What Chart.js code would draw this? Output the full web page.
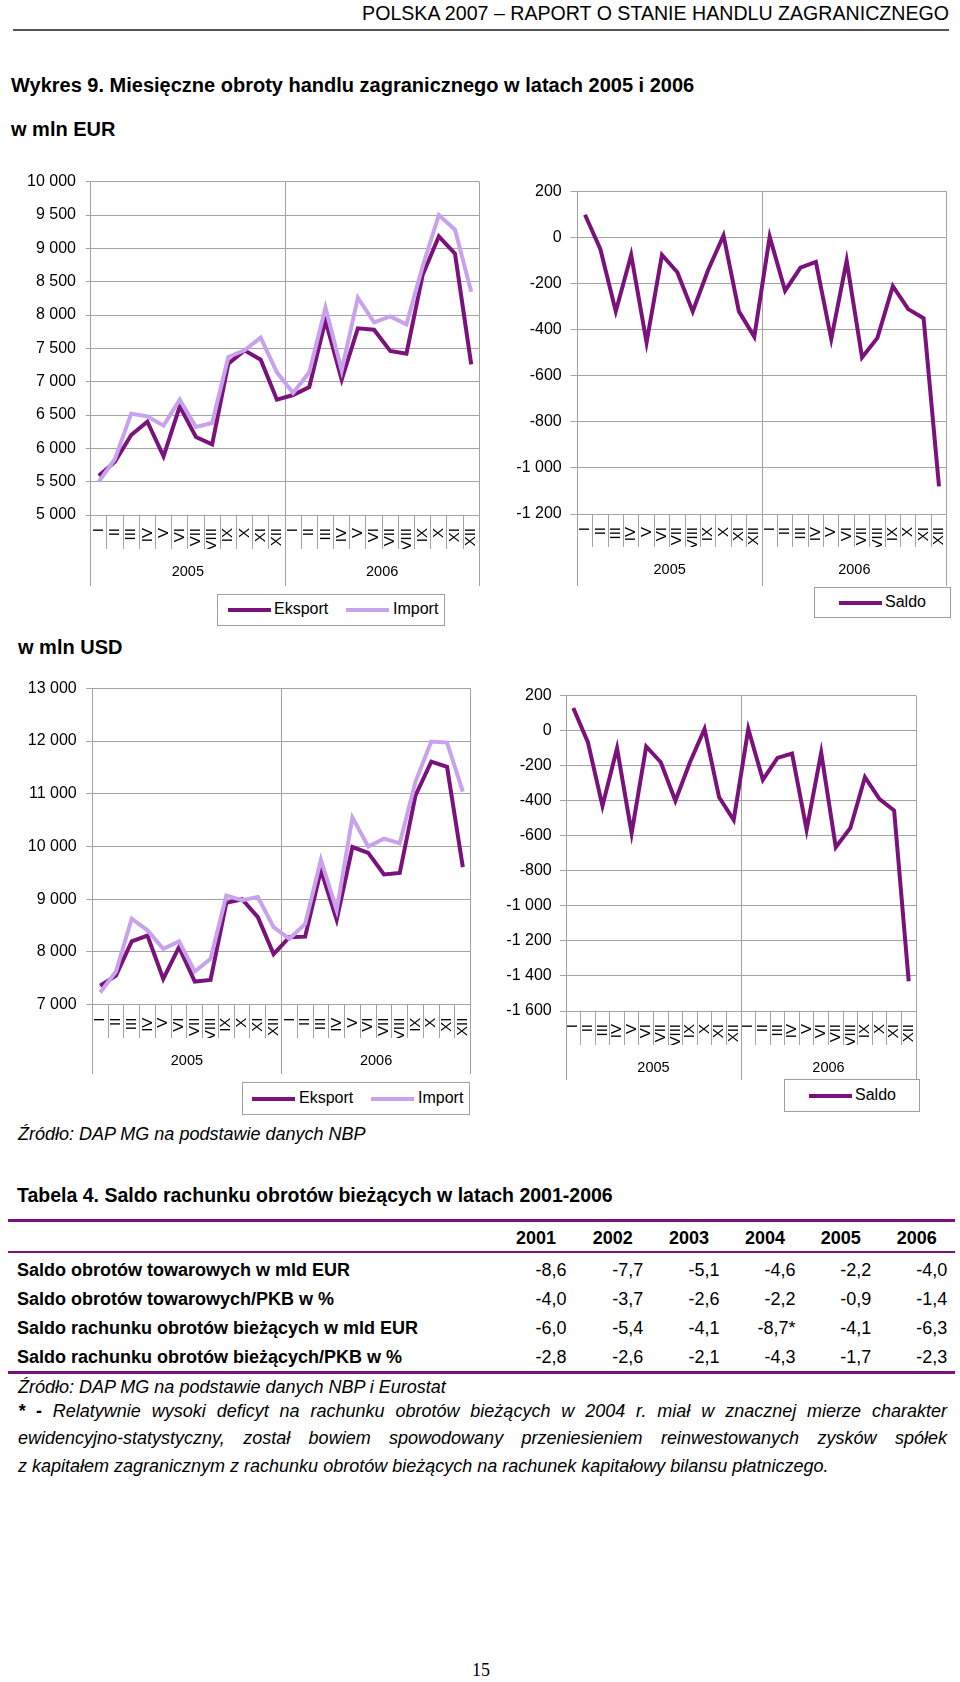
<!DOCTYPE html>
<html lang="pl">
<head>
<meta charset="utf-8">
<title>Wykres 9</title>
<script src="https://cdn.jsdelivr.net/npm/chart.js@4.4.1/dist/chart.umd.min.js"></script>
<style>
  html, body { margin: 0; padding: 0; background: #fff; }
  body { position: relative; width: 960px; height: 1682px; overflow: hidden;
         font-family: "Liberation Sans", Arial, sans-serif; color: #000; }
  .abs { position: absolute; white-space: nowrap; }
  canvas { position: absolute; }
  .legend { position: absolute; border: 1px solid #a0a0a0; background: #fff; box-sizing: border-box; }
  .legend .sw { position: absolute; height: 4px; }
  .legend .lt { position: absolute; font-size: 16px; line-height: 20px; }
</style>
</head>
<body>

<div class="abs" style="right:11px; top:1px; font-size:19.6px; line-height:24px;">POLSKA 2007 – RAPORT O STANIE HANDLU ZAGRANICZNEGO</div>
<div class="abs" style="left:13px; top:29px; width:936px; height:2px; background:#555;"></div>

<div class="abs" style="left:11px; top:73px; font-size:20px; line-height:24px; font-weight:bold;">Wykres 9. Miesięczne obroty handlu zagranicznego w latach 2005 i 2006</div>
<div class="abs" style="left:11px; top:117px; font-size:20px; line-height:24px; font-weight:bold;">w mln EUR</div>
<div class="abs" style="left:18px; top:635px; font-size:20px; line-height:24px; font-weight:bold;">w mln USD</div>

<canvas id="eurChart" width="490" height="426" style="left:0; top:160px;"></canvas>
<canvas id="eurSaldoChart" width="470" height="426" style="left:490px; top:160px;"></canvas>
<canvas id="usdChart" width="490" height="434" style="left:0; top:640px;"></canvas>
<canvas id="usdSaldoChart" width="470" height="440" style="left:490px; top:640px;"></canvas>

<div class="legend" style="left:217px; top:594px; width:228px; height:32px;">
  <div class="sw" style="left:10px; top:13px; width:43px; background:#7b127b;"></div>
  <div class="lt" style="left:56px; top:4px;">Eksport</div>
  <div class="sw" style="left:128px; top:13px; width:43px; background:#c8a2ec;"></div>
  <div class="lt" style="left:175px; top:4px;">Import</div>
</div>
<div class="legend" style="left:814px; top:587px; width:137px; height:31px;">
  <div class="sw" style="left:24px; top:13px; width:43px; background:#7b127b;"></div>
  <div class="lt" style="left:70px; top:4px;">Saldo</div>
</div>
<div class="legend" style="left:242px; top:1082px; width:228px; height:33px;">
  <div class="sw" style="left:9px; top:14px; width:43px; background:#7b127b;"></div>
  <div class="lt" style="left:56px; top:5px;">Eksport</div>
  <div class="sw" style="left:128px; top:14px; width:43px; background:#c8a2ec;"></div>
  <div class="lt" style="left:175px; top:5px;">Import</div>
</div>
<div class="legend" style="left:784px; top:1079px; width:136px; height:33px;">
  <div class="sw" style="left:24px; top:14px; width:43px; background:#7b127b;"></div>
  <div class="lt" style="left:70px; top:5px;">Saldo</div>
</div>

<div class="abs" style="left:18px; top:1123px; font-size:18px; line-height:22px; font-style:italic;">Źródło: DAP MG na podstawie danych NBP</div>

<div class="abs" style="left:17px; top:1183px; font-size:19.5px; line-height:24px; font-weight:bold;">Tabela 4. Saldo rachunku obrotów bieżących w latach 2001-2006</div>
<div class="abs" style="left:8px; top:1219px; width:947px; height:3px; background:#7b127b;"></div>
<div class="abs" style="left:8px; top:1251px; width:947px; height:1.5px; background:#7b127b;"></div>
<div class="abs" style="left:8px; top:1371px; width:947px; height:3px; background:#7b127b;"></div>
<div id="tbl"></div>

<div class="abs" style="left:18px; top:1376px; font-size:18px; line-height:22px; font-style:italic;">Źródło: DAP MG na podstawie danych NBP i Eurostat</div>
<div class="abs" style="left:18px; top:1398px; width:929px; font-size:18px; line-height:27.3px; font-style:italic; white-space:normal; text-align:justify;"><b>* -</b> Relatywnie wysoki deficyt na rachunku obrotów bieżących w 2004 r. miał w znacznej mierze charakter ewidencyjno-statystyczny, został bowiem spowodowany przeniesieniem reinwestowanych zysków spółek z&nbsp;kapitałem zagranicznym z rachunku obrotów bieżących na rachunek kapitałowy bilansu płatniczego.</div>

<div class="abs" style="left:461px; width:40px; text-align:center; top:1659px; font-family:'Liberation Serif','Times New Roman',serif; font-size:18px; line-height:22px;">15</div>

<script>
const monthLabels = ['I', 'II', 'III', 'IV', 'V', 'VI', 'VII', 'VIII', 'IX', 'X', 'XI', 'XII',
                     'I', 'II', 'III', 'IV', 'V', 'VI', 'VII', 'VIII', 'IX', 'X', 'XI', 'XII'];
const yearLabels = ['2005', '2006'];

// w mln EUR
const eksportEUR = [5590, 5800, 6200, 6400, 5880, 6630, 6170, 6060, 7270, 7470, 7330, 6730,
                    6800, 6920, 7920, 7030, 7800, 7780, 7460, 7420, 8600, 9180, 8920, 7260];
const importEUR  = [5500, 5840, 6520, 6480, 6340, 6730, 6320, 6380, 7370, 7470, 7660, 7140,
                    6830, 7140, 8110, 7170, 8260, 7890, 7980, 7860, 8730, 9500, 9280, 8350];
const saldoEUR   = [100, -50, -320, -75, -455, -75, -150, -320, -140, 10, -320, -430,
                    5, -230, -130, -105, -440, -100, -520, -435, -210, -310, -350, -1080];

// w mln USD
const eksportUSD = [7360, 7550, 8200, 8310, 7490, 8090, 7440, 7470, 8930, 9000, 8660, 7960,
                    8280, 8290, 9550, 8610, 9990, 9880, 9470, 9500, 10970, 11610, 11510, 9610];
const importUSD  = [7230, 7630, 8630, 8410, 8060, 8200, 7630, 7870, 9070, 8980, 9040, 8470,
                    8250, 8530, 9750, 8790, 10550, 10000, 10150, 10060, 11230, 11990, 11970, 11040];
const saldoUSD   = [130, -65, -430, -100, -585, -90, -180, -400, -180, 10, -380, -510,
                    10, -280, -155, -130, -565, -125, -665, -555, -265, -390, -455, -1430];

// Tabela 4
const tableYears = ['2001', '2002', '2003', '2004', '2005', '2006'];
const tableRowLabels = ['Saldo obrotów towarowych w mld EUR', 'Saldo obrotów towarowych/PKB w %',
                        'Saldo rachunku obrotów bieżących w mld EUR', 'Saldo rachunku obrotów bieżących/PKB w %'];
const tableRow1 = ['-8,6', '-7,7', '-5,1', '-4,6', '-2,2', '-4,0'];
const tableRow2 = ['-4,0', '-3,7', '-2,6', '-2,2', '-0,9', '-1,4'];
const tableRow3 = ['-6,0', '-5,4', '-4,1', '-8,7*', '-4,1', '-6,3'];
const tableRow4 = ['-2,8', '-2,6', '-2,1', '-4,3', '-1,7', '-2,3'];

const EKSPORT_COLOR = '#7b127b';
const IMPORT_COLOR = '#c8a2ec';
const GRID = '#a3a3a3';

Chart.defaults.font.family = '"Liberation Sans", Arial, sans-serif';
Chart.defaults.color = '#000';

function fmt(v) {
  const s = String(Math.abs(v)).replace(/\B(?=(\d{3})+(?!\d))/g, ' ');
  return (v < 0 ? '-' : '') + s;
}

function lineChart(id, datasets, g) {
  new Chart(document.getElementById(id), {
    type: 'line',
    data: { labels: monthLabels, datasets: datasets },
    options: {
      responsive: false,
      animation: false,
      layout: { padding: { top: g.padTop, right: g.padRight, left: 0, bottom: 0 } },
      plugins: { legend: { display: false }, tooltip: { enabled: false } },
      elements: { point: { radius: 0 }, line: { tension: 0, borderWidth: 4 } },
      scales: {
        // months: right under the plot
        x: {
          type: 'category',
          offset: true,
          weight: 0,
          grid: { offset: true, drawOnChartArea: false, tickLength: g.monthH, color: GRID },
          border: { color: GRID },
          ticks: { autoSkip: false, minRotation: 90, maxRotation: 90, padding: 13 - g.monthH, font: { size: 15 } },
          afterFit: s => { s.height = g.monthH; }
        },
        // years: second level
        x2: {
          type: 'category',
          labels: yearLabels,
          position: 'bottom',
          offset: true,
          weight: 1,
          grid: { offset: true, drawOnChartArea: true, tickLength: g.yearTick, color: GRID },
          border: { display: false },
          ticks: { padding: 14 - g.yearTick, font: { size: 14.5 } },
          afterFit: s => { s.height = g.yearTick; }
        },
        y: {
          min: g.min,
          max: g.max,
          grid: { color: GRID, tickLength: g.yTick },
          border: { color: GRID },
          ticks: { stepSize: g.step, padding: g.yPad, font: { size: 16 }, callback: v => fmt(v) },
          afterFit: s => { s.width = g.yWidth; }
        }
      }
    }
  });
}

lineChart('eurChart', [
  { label: 'Eksport', data: eksportEUR, borderColor: EKSPORT_COLOR, order: 1 },
  { label: 'Import', data: importEUR, borderColor: IMPORT_COLOR, order: 0 }
], { padTop: 21.7, padRight: 10.7, yWidth: 90.7, yTick: 5, yPad: 9.7, monthH: 34, yearTick: 37,
     min: 5000, max: 10000, step: 500 });

lineChart('eurSaldoChart', [
  { label: 'Saldo', data: saldoEUR, borderColor: EKSPORT_COLOR }
], { padTop: 31.7, padRight: 13.3, yWidth: 87.3, yTick: 7, yPad: 8.6, monthH: 33, yearTick: 39,
     min: -1200, max: 200, step: 200 });

lineChart('usdChart', [
  { label: 'Eksport', data: eksportUSD, borderColor: EKSPORT_COLOR, order: 1 },
  { label: 'Import', data: importUSD, borderColor: IMPORT_COLOR, order: 0 }
], { padTop: 48.3, padRight: 19.3, yWidth: 92.3, yTick: 6, yPad: 9.6, monthH: 33.3, yearTick: 36,
     min: 7000, max: 13000, step: 1000 });

lineChart('usdSaldoChart', [
  { label: 'Saldo', data: saldoUSD, borderColor: EKSPORT_COLOR }
], { padTop: 55.7, padRight: 44, yWidth: 76, yTick: 6, yPad: 8.3, monthH: 34, yearTick: 35,
     min: -1600, max: 200, step: 200 });

// Tabela 4 (tekst)
const tbl = document.getElementById('tbl');
const colRight = [556, 632.7, 709, 785, 860.7, 936.7];
function put(text, x, centerY, opts) {
  const d = document.createElement('div');
  d.className = 'abs';
  d.textContent = text;
  d.style.fontSize = '18px';
  d.style.lineHeight = '22px';
  d.style.top = (centerY - 11.5) + 'px';
  if (opts.right) d.style.right = (960 - x) + 'px'; else d.style.left = x + 'px';
  if (opts.bold) d.style.fontWeight = 'bold';
  tbl.appendChild(d);
}
tableYears.forEach((y, i) => put(y, colRight[i], 1238, { right: true, bold: true }));
const rowCenters = [1270, 1299, 1328, 1357];
[tableRow1, tableRow2, tableRow3, tableRow4].forEach((row, r) => {
  put(tableRowLabels[r], 17, rowCenters[r], { bold: true });
  row.forEach((v, i) => put(v, colRight[i] + 10.5, rowCenters[r], { right: true }));
});
</script>
</body>
</html>
